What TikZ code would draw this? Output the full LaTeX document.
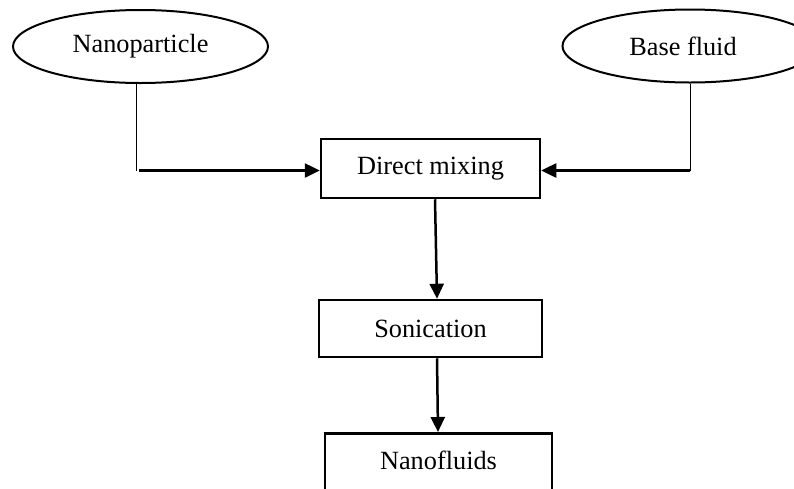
\documentclass[tikz,border=0pt]{standalone}
\usepackage{fontspec}
\setmainfont{Liberation Serif}
\usetikzlibrary{shapes.geometric,arrows.meta}
\begin{document}
\begin{tikzpicture}[x=1pt,y=1pt,
  every node/.style={font=\fontsize{26.3}{30}\selectfont, inner sep=0pt},
  oval/.style={draw, ellipse, line width=2pt, minimum width=255pt, minimum height=73pt},
  procbox/.style={draw, rectangle, line width=2.5pt},
  thinline/.style={line width=1pt},
  arr/.style={line width=2.5pt, -{Triangle[length=15pt,width=14pt]}}]
\useasboundingbox (0,0) rectangle (794,-488);
\clip (0,0) rectangle (794,-488);
\node[oval] (np) at (140.5,-46.5) {Nanoparticle};
\node[oval, label={[xshift=-7pt]center:Base fluid}] (bf) at (690,-46) {};
\node[procbox, minimum width=219pt, minimum height=59pt] (dm) at (430.5,-168.5) {Direct mixing};
\node[procbox, minimum width=223pt, minimum height=57pt] (son) at (430.5,-328.5) {Sonication};
\node[procbox, minimum width=227pt, minimum height=62pt, anchor=north] (nf) at (438.5,-432) {};
\node at (438.5,-460.5) (nft) {Nanofluids};
\coordinate (npc) at (136,-170.5);
\coordinate (npd) at (139,-170.5);
\coordinate (bfc) at (690,-170.5);
\draw[thinline] (np.south -| npc) -- (npc);
\draw[arr] (npd) -- (npd -| dm.west);
\draw[thinline] (bf.south) -- (bfc);
\draw[arr] (bfc) -- (bfc -| dm.east);
\draw[arr] ([xshift=4.5pt]dm.south) -- ([xshift=6.5pt]son.north);
\draw[arr] ([xshift=6.5pt]son.south) -- ([xshift=-0.5pt]nf.north);
\end{tikzpicture}
\end{document}
